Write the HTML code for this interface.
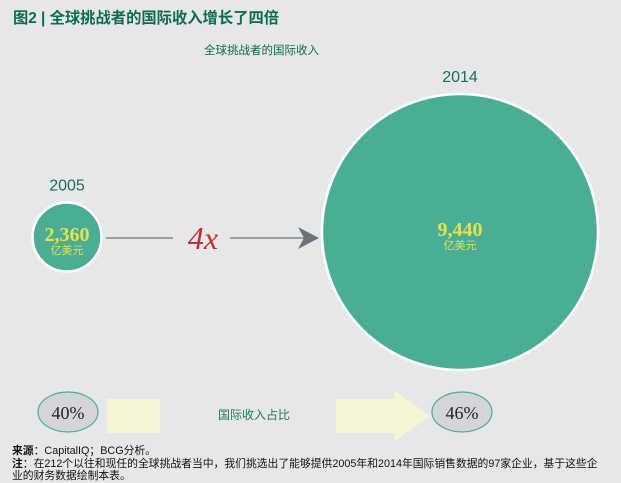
<!DOCTYPE html>
<html><head><meta charset="utf-8"><style>
body{margin:0;width:621px;height:480px;background:#e6e7e9;overflow:hidden;font-family:"Liberation Sans","Noto Sans CJK SC",sans-serif;position:relative}
.t{position:absolute;white-space:nowrap}
</style></head><body>
<div class="t" style="left:13px;top:6px;font-size:15.3px;font-weight:bold;color:#0b6b52">图2 | 全球挑战者的国际收入增长了四倍</div>
<div class="t" style="left:204px;top:42px;font-size:11.5px;color:#0b6b52">全球挑战者的国际收入</div>
<svg id="c" width="621" height="480" style="position:absolute;left:0;top:0"></svg>
<div class="t" style="left:12px;top:445px;font-size:10.8px;color:#111;line-height:12.5px"><b>来源</b>：CapitalIQ；BCG分析。<br><b>注</b>：在212个以往和现任的全球挑战者当中，我们挑选出了能够提供2005年和2014年国际销售数据的97家企业，基于这些企<br>业的财务数据绘制本表。</div>
<script>
const years=["2005","2014"];
const values=[236,944];
const labels=["2,360","9,440"];
const shares=["40%","46%"];
const NS="http://www.w3.org/2000/svg";
const svg=document.getElementById('c');
function mk(t,a,p){const e=document.createElementNS(NS,t);for(const k in a)e.setAttribute(k,a[k]);(p||svg).appendChild(e);return e;}
const rScale=v=>v*138/944;
const cx=[67,460],cy=[237,232];
let e;
e=mk('line',{x1:106,y1:238,x2:173,y2:238,stroke:'#6d7278','stroke-width':1.3});

e=mk('line',{x1:230,y1:238,x2:312,y2:238,stroke:'#6d7278','stroke-width':1.3});

e=mk('polygon',{points:'298,227 319,238 298,249 304,238',fill:'#6d7278'});

e=mk('text',{x:203,y:249,'text-anchor':'middle','font-family':'Liberation Serif, serif','font-style':'italic','font-size':32,fill:'#c0312b'});e.textContent='4x';

values.forEach((v,i)=>{
  const r=rScale(v);
  let c=mk('circle',{cx:cx[i],cy:cy[i],r:r,fill:'#4aae96',stroke:'#fff','stroke-width':2.5});
  
  let y=mk('text',{x:cx[i],y:cy[i]-r-12,'text-anchor':'middle','font-size':16,fill:'#1f6a60'});y.textContent=years[i];
  
  let v1=mk('text',{x:cx[i],y:cy[i]+4,'text-anchor':'middle','font-family':'Liberation Serif, serif','font-weight':'bold','font-size':20,fill:'#e8e24a'});v1.textContent=labels[i];
  
  let u=mk('text',{x:cx[i],y:cy[i]+17,'text-anchor':'middle','font-size':11,fill:'#e8e24a'});u.textContent='亿美元';
  
});
e=mk('rect',{x:107,y:399,width:53,height:34,fill:'#f6f6d2'});

e=mk('polygon',{points:'336,399 395,399 395,391 430,416 395,441 395,433 336,433',fill:'#f6f6d2'});

e=mk('text',{x:254,y:419,'text-anchor':'middle','font-size':12,fill:'#1f7a63'});e.textContent='国际收入占比';

const sx=[68,462];
shares.forEach((s,i)=>{
  let el=mk('ellipse',{cx:sx[i],cy:412,rx:30,ry:20,fill:'#d3d5d8',stroke:'#4aae96','stroke-width':1.2});
  
  let t=mk('text',{x:sx[i],y:419,'text-anchor':'middle','font-family':'Liberation Serif, serif','font-size':18,fill:'#222'});t.textContent=s;
  
});
</script>
</body></html>
